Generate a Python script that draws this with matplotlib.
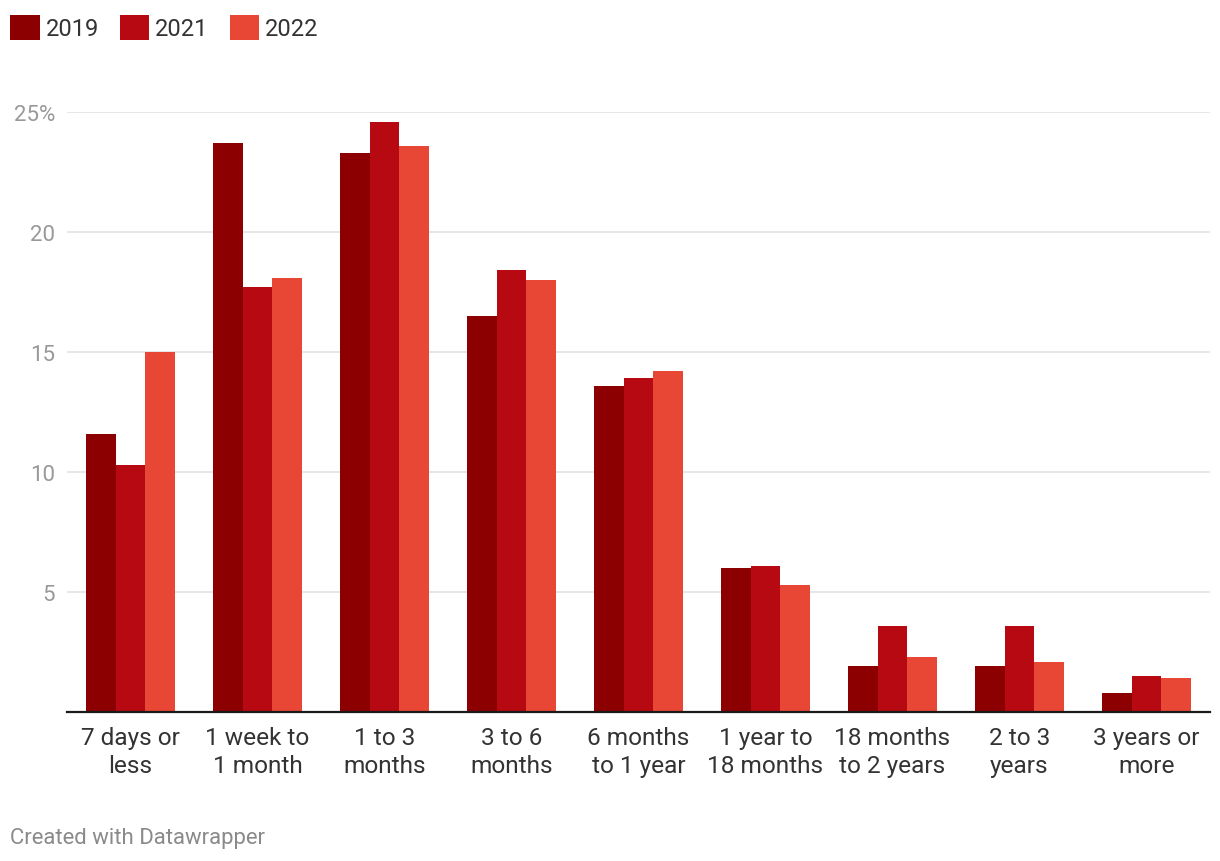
import numpy as np
import matplotlib
matplotlib.use("Agg")
import matplotlib.pyplot as plt
from matplotlib.patches import Patch

categories = ["7 days or\nless", "1 week to\n1 month", "1 to 3\nmonths", "3 to 6\nmonths",
              "6 months\nto 1 year", "1 year to\n18 months", "18 months\nto 2 years",
              "2 to 3\nyears", "3 years or\nmore"]
years = ["2019", "2021", "2022"]
values_2019 = [11.6, 23.7, 23.3, 16.5, 13.6, 6.0, 1.9, 1.9, 0.8]
values_2021 = [10.3, 17.7, 24.6, 18.4, 13.9, 6.1, 3.6, 3.6, 1.5]
values_2022 = [15.0, 18.1, 23.6, 18.0, 14.2, 5.3, 2.3, 2.1, 1.4]
yticks = [5, 10, 15, 20, 25]
ytick_labels = ["5", "10", "15", "20", "25%"]

colors = ["#8c0002", "#b70911", "#e94735"]

plt.rcParams["font.family"] = ["Roboto", "DejaVu Sans"]

W, H = 1220, 862
fig = plt.figure(figsize=(W / 100, H / 100), dpi=100)
ax = fig.add_axes([67 / W, (H - 713) / H, (1210 - 67) / W, (713 - 113) / H])

x = np.arange(len(categories))
width = 0.234
series = [values_2019, values_2021, values_2022]
handles = []
for i, (vals, year, col) in enumerate(zip(series, years, colors)):
    ax.bar(x + (i - 1) * width, vals, width, color=col, label=year, zorder=3, linewidth=0)
    handles.append(Patch(facecolor=col, label=year))

ax.set_xlim(-0.5, len(categories) - 0.5)
ax.set_ylim(0, 25)
ax.set_yticks(yticks)
ax.set_yticklabels(ytick_labels)
ax.set_xticks(x)
ax.set_xticklabels(categories, linespacing=1.27)

ax.grid(axis="y", color="#e5e5e5", linewidth=1.3, zorder=0)
ax.tick_params(axis="y", length=0, pad=8.5, labelsize=16, labelcolor="#999999")
ax.tick_params(axis="x", length=0, pad=10, labelsize=17.6, labelcolor="#333333")
for side in ["top", "right", "left"]:
    ax.spines[side].set_visible(False)
ax.spines["bottom"].set_color("#1a1a1a")
ax.spines["bottom"].set_linewidth(1.6)
ax.spines["bottom"].set_zorder(4)

fig.legend(handles=handles, loc="upper left", bbox_to_anchor=(10 / W, 1 - 16 / H),
           ncol=3, frameon=False, fontsize=17, handlelength=1.25, handleheight=1.25,
           handletextpad=0.25, columnspacing=0.9, borderpad=0, borderaxespad=0,
           labelcolor="#333333")

fig.text(10 / W, 1 - 839 / H, "Created with Datawrapper", fontsize=15.9,
         color="#8a8a8a", va="center", ha="left")

fig.savefig("out.png", dpi=100, facecolor="white")
